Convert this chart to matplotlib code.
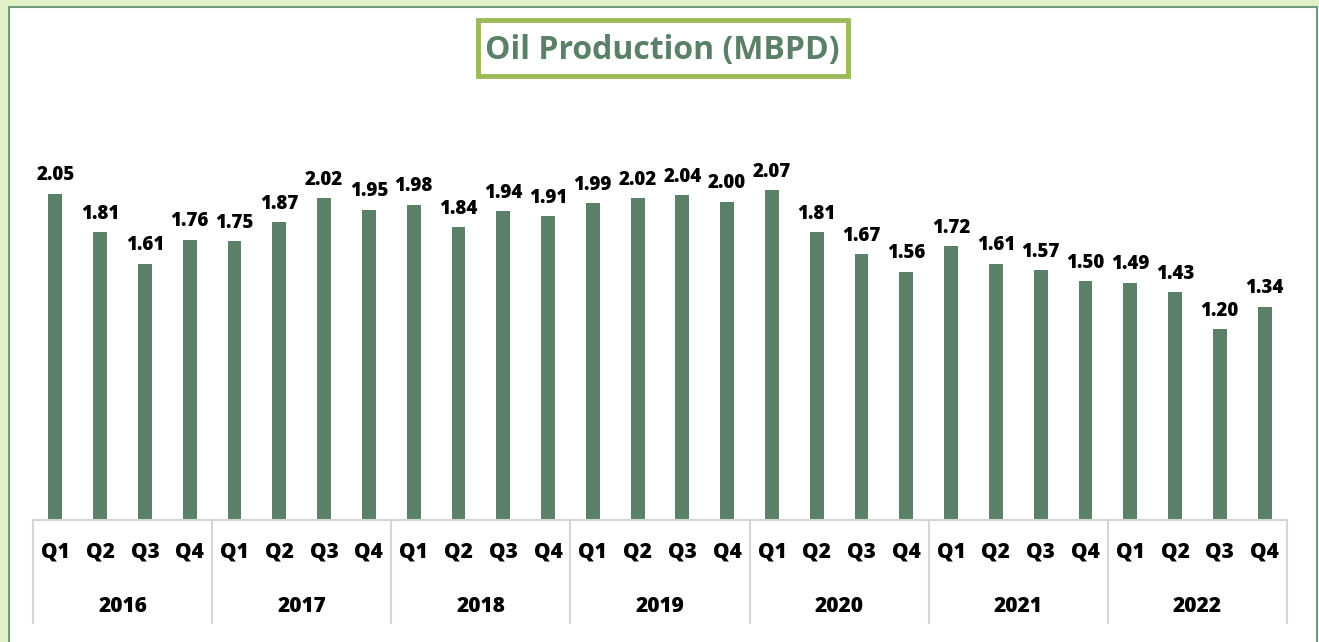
import matplotlib.pyplot as plt
from matplotlib.patches import Rectangle
from matplotlib.lines import Line2D
from matplotlib.transforms import blended_transform_factory

years = ["2016", "2017", "2018", "2019", "2020", "2021", "2022"]
quarters = ["Q1", "Q2", "Q3", "Q4"]
production = [
    2.05, 1.81, 1.61, 1.76,
    1.75, 1.87, 2.02, 1.95,
    1.98, 1.84, 1.94, 1.91,
    1.99, 2.02, 2.04, 2.00,
    2.07, 1.81, 1.67, 1.56,
    1.72, 1.61, 1.57, 1.50,
    1.49, 1.43, 1.20, 1.34,
]

BAR_COLOR = "#5b8068"
TITLE_COLOR = "#5b8068"
FONT = "Open Sans"

W, H = 1319, 642
fig = plt.figure(figsize=(W / 100, H / 100), dpi=100)
fig.patch.set_facecolor("white")

# outer frame: light green glow on top/left, thin dark green line
fig.patches.append(Rectangle((0, (H - 6) / H), 1, 6 / H, transform=fig.transFigure,
                             facecolor="#e2f2c8", edgecolor="none"))
fig.patches.append(Rectangle((0, 0), 8 / W, 1, transform=fig.transFigure,
                             facecolor="#e2f2c8", edgecolor="none"))
frame = dict(transform=fig.transFigure, color="#6f9a7c", lw=1.5)
fig.lines.append(Line2D([8.5 / W, 1317 / W], [(H - 6.5) / H] * 2, **frame))
fig.lines.append(Line2D([8.5 / W] * 2, [0, (H - 6.5) / H], **frame))
fig.lines.append(Line2D([1317 / W] * 2, [0, (H - 6.5) / H], **frame))

ax = fig.add_axes([33 / W, (H - 520) / H, 1254 / W, 398 / H])
x = list(range(len(production)))
ax.bar(x, production, width=0.31, color=BAR_COLOR)
ax.set_xlim(-0.5, len(production) - 0.5)
ax.set_ylim(0, 2.5)
ax.set_xticks([])
ax.set_yticks([])
for side in ["left", "right", "top"]:
    ax.spines[side].set_visible(False)
ax.spines["bottom"].set_color("#d4d4d4")
ax.spines["bottom"].set_linewidth(1.5)

for xi, v in zip(x, production):
    ax.annotate(f"{v:.2f}", (xi, v), xytext=(0, 6), textcoords="offset points",
                ha="center", va="bottom", fontsize=13.5, fontweight="heavy",
                family=FONT, color="black")

# multi-level category axis
trans = blended_transform_factory(ax.transData, ax.transAxes)
for i, xi in enumerate(x):
    ax.text(xi, -0.08, quarters[i % 4], transform=trans, ha="center", va="center",
            fontsize=15, fontweight="heavy", family=FONT)
for g, yr in enumerate(years):
    ax.text(g * 4 + 1.5, -0.217, yr, transform=trans, ha="center", va="center",
            fontsize=15, fontweight="heavy", family=FONT)
for g in range(len(years) + 1):
    bx = g * 4 - 0.5
    ax.plot([bx, bx], [0, -0.259], transform=trans, color="#d4d4d4",
            lw=1.5, clip_on=False)

# title with green box
fig.patches.append(Rectangle((478 / W, (H - 76) / H), (848 - 478) / W, 56 / H,
                             transform=fig.transFigure, fill=False,
                             edgecolor="#9bbb59", lw=3.5))
fig.text(662 / W, (H - 50) / H, "Oil Production (MBPD)", ha="center", va="center",
         fontsize=23, fontweight="bold", family=FONT, color=TITLE_COLOR)

fig.savefig("out.png", dpi=100)
